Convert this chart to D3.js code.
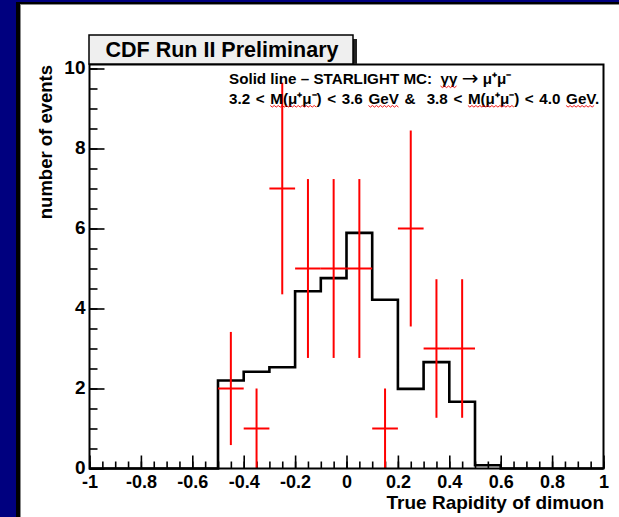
<!DOCTYPE html>
<html><head><meta charset="utf-8">
<script src="https://cdn.jsdelivr.net/npm/d3@7/dist/d3.min.js"></script>
<style>
body{margin:0;background:#00007f;overflow:hidden}
svg{display:block}
text{font-family:"Liberation Sans",Arial,Helvetica,sans-serif}
</style>
</head><body>
<svg id="c" width="619" height="517"></svg>
<script>
// ---------- data ----------
const mcBinCenters = [-0.95,-0.85,-0.75,-0.65,-0.55,-0.45,-0.35,-0.25,-0.15,-0.05,0.05,0.15,0.25,0.35,0.45,0.55,0.65,0.75,0.85,0.95];
const mcValues     = [0,0,0,0,0,2.2,2.42,2.53,4.43,4.76,5.89,4.22,1.99,2.66,1.67,0.08,0,0,0,0];
const dataBinCenters = [-0.45,-0.35,-0.25,-0.15,-0.05,0.05,0.15,0.25,0.35,0.45];
const dataCounts     = [2,1,7,5,5,5,1,6,3,3];
const binWidth = 0.1;
const xMajorTicks = [-1,-0.8,-0.6,-0.4,-0.2,0,0.2,0.4,0.6,0.8,1];
const xTickLabels = ["-1","-0.8","-0.6","-0.4","-0.2","0","0.2","0.4","0.6","0.8","1"];
const yMajorTicks = [0,2,4,6,8,10];
const yTickLabels = ["0","2","4","6","8","10"];
const titleText = "CDF Run II Preliminary";
const xTitle = "True Rapidity of dimuon";
const yTitle = "number of events";
// legend segments: [text, isSymbolLarge, squiggle]
const legendLine1 = [["Solid line \u2013 STARLIGHT MC:  ",0,0],["\u03b3\u03b3",0,1],[" ",0,0],["\u2192",1,0],[" \u03bc\u207a\u03bc\u207b",0,0]];
const legendLine2 = [["3.2 < ",0,0],["M(\u03bc\u207a\u03bc\u207b",0,1],[") < 3.6 ",0,0],["GeV",0,1],[" &  3.8 < ",0,0],
                     ["M(\u03bc\u207a\u03bc\u207b",0,1],[") < 4.0 ",0,0],["GeV",0,1],[".",0,0]];

// ---------- layout ----------
const svg = d3.select("#c");
const L = 89.5, R = 603.5, T = 64.5, B = 468.5;
const x = d3.scaleLinear().domain([-1,1]).range([L,R]);
const y = d3.scaleLinear().domain([0,10.1]).range([B,T]);

// slide background
svg.append("rect").attr("x",0).attr("y",0).attr("width",619).attr("height",517).attr("fill","#00007f");
svg.append("rect").attr("x",16).attr("y",2).attr("width",603).attr("height",515).attr("fill","#000");
svg.append("rect").attr("x",20.5).attr("y",4.5).attr("width",600).attr("height",515)
   .attr("fill","#fff").attr("stroke","#888").attr("stroke-width",1);

// plot frame interior
svg.append("rect").attr("x",L).attr("y",T).attr("width",R-L).attr("height",B-T).attr("fill","#fff");

// minor/major ticks
const xMinor = d3.range(-1,1.0001,0.05).map(v=>+v.toFixed(2));
const yMinor = d3.range(0,10.0001,0.5).map(v=>+v.toFixed(2));
const gx = svg.append("g").attr("transform",`translate(0,${B})`);
gx.call(d3.axisBottom(x).tickValues(xMinor).tickSize(-7).tickFormat(""));
const gx2 = svg.append("g").attr("transform",`translate(0,${B})`);
gx2.call(d3.axisBottom(x).tickValues(xMajorTicks).tickSize(-13).tickFormat((d,i)=>xTickLabels[i]));
const gy = svg.append("g").attr("transform",`translate(${L},0)`);
gy.call(d3.axisLeft(y).tickValues(yMinor).tickSize(-8).tickFormat(""));
const gy2 = svg.append("g").attr("transform",`translate(${L},0)`);
gy2.call(d3.axisLeft(y).tickValues(yMajorTicks).tickSize(-15).tickFormat((d,i)=>yTickLabels[i]));
svg.selectAll(".domain").remove();
svg.selectAll(".tick line").attr("stroke","#000").attr("stroke-width",1.6);
gx2.selectAll("text").attr("y",0).attr("dy",0).attr("transform","translate(0,13.5)")
   .attr("dominant-baseline","central").attr("font-size",18).attr("font-weight","bold").attr("fill","#000");
gy2.selectAll("text").attr("x",-4).attr("dy",0).attr("transform","translate(0,-2)")
   .attr("dominant-baseline","central").attr("font-size",19).attr("font-weight","bold").attr("fill","#000");

// MC histogram (step line)
const stepPts = mcBinCenters.map((c,i)=>[c-binWidth/2, mcValues[i]]);
stepPts.push([mcBinCenters[mcBinCenters.length-1]+binWidth/2, mcValues[mcValues.length-1]]);
svg.append("path")
  .attr("d", d3.line().x(d=>x(d[0])).y(d=>y(d[1])).curve(d3.curveStepAfter)(stepPts))
  .attr("fill","none").attr("stroke","#000").attr("stroke-width",2.6);

// data points with sqrt(N) errors
const gd = svg.append("g").attr("stroke","#ff0000").attr("stroke-width",2);
dataBinCenters.forEach((c,i)=>{
  const n = dataCounts[i], e = Math.sqrt(n);
  gd.append("line").attr("x1",x(c)).attr("x2",x(c)).attr("y1",y(Math.max(0,n-e))).attr("y2",y(n+e));
  gd.append("line").attr("x1",x(c-binWidth/2)).attr("x2",x(c+binWidth/2)).attr("y1",y(n)).attr("y2",y(n));
});

// frame
svg.append("rect").attr("x",L).attr("y",T).attr("width",R-L).attr("height",B-T)
   .attr("fill","none").attr("stroke","#000").attr("stroke-width",2);

// title box
svg.append("rect").attr("x",353).attr("y",39).attr("width",4).attr("height",25).attr("fill","#222");
svg.append("rect").attr("x",89).attr("y",35).attr("width",264).attr("height",29)
   .attr("fill","#efefef").attr("stroke","#000").attr("stroke-width",1.5);
svg.append("text").attr("x",222).attr("y",49.5).attr("text-anchor","middle").attr("dominant-baseline","central")
   .attr("font-size",21.5).attr("font-weight","bold").text(titleText);

// axis titles
svg.append("text").attr("x",604).attr("y",502).attr("text-anchor","end").attr("dominant-baseline","central")
   .attr("font-size",19).attr("font-weight","bold").text(xTitle);
svg.append("text").attr("transform","translate(45,65) rotate(-90)").attr("text-anchor","end")
   .attr("dominant-baseline","central").attr("font-size",18.5).attr("font-weight","bold").text(yTitle);

// legend text
function legend(segs, yy, wordSp){
  const t = svg.append("text").attr("x",229).attr("y",yy).attr("dominant-baseline","central")
     .attr("font-size",15.2).attr("font-weight","bold").style("white-space","pre").style("word-spacing",wordSp+"px");
  const spans = segs.map(s=>{
    const ts = t.append("tspan").text(s[0]);
    if(s[1]) ts.attr("font-size",20).attr("font-weight","normal").attr("font-family","DejaVu Sans");
    return ts;
  });
  const node = t.node();
  let idx = 0;
  segs.forEach((s,i)=>{
    const a = idx, b = idx + s[0].length; idx = b;
    if(!s[2]) return;
    const x0 = node.getStartPositionOfChar(a).x, x1 = node.getEndPositionOfChar(b-1).x;
    let d = `M${x0},${yy+8}`; let k=0;
    for(let xx=x0+2; xx<=x1; xx+=2){ d += `L${xx},${yy+8+(k%2?0:1.6)}`; k++; }
    svg.append("path").attr("d",d).attr("fill","none").attr("stroke","#e00").attr("stroke-width",0.9);
  });
}
legend(legendLine1, 78, 0);
legend(legendLine2, 97.5, 1.4);
</script>
</body></html>
